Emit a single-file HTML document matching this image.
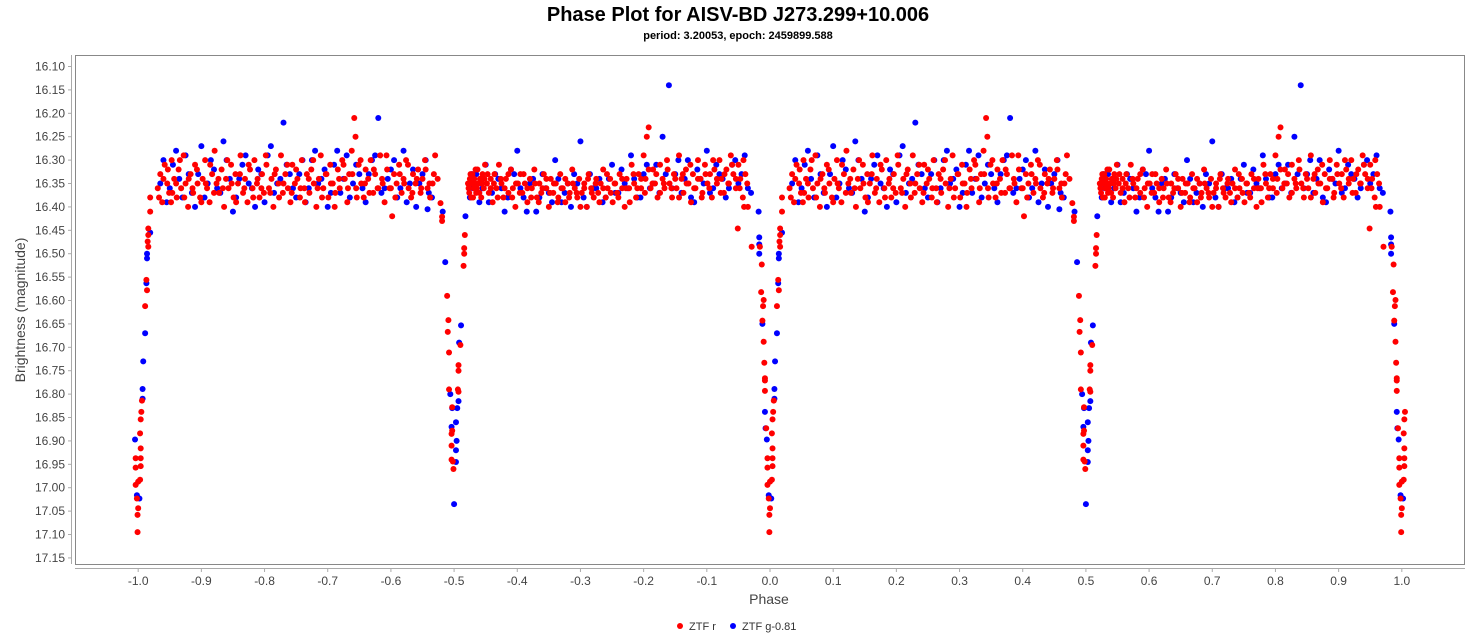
<!DOCTYPE html>
<html><head><meta charset="utf-8"><style>
body{margin:0;background:#fff;font-family:"Liberation Sans",sans-serif}
svg text{font-family:"Liberation Sans",sans-serif}
</style></head><body>
<svg id="chart" width="1477" height="637" xmlns="http://www.w3.org/2000/svg">
<text x="738" y="21" text-anchor="middle" font-size="20" font-weight="bold" fill="#000">Phase Plot for AISV-BD J273.299+10.006</text>
<text x="738" y="39" text-anchor="middle" font-size="11" font-weight="bold" fill="#000">period: 3.20053, epoch: 2459899.588</text>
<rect x="75.5" y="55.5" width="1389" height="509" fill="#fff" stroke="#888"/>
<g id="axes"></g>
<g id="marks"></g>
<text x="769" y="604" text-anchor="middle" font-size="14" fill="#444">Phase</text>
<text transform="translate(25,310) rotate(-90)" text-anchor="middle" font-size="14" fill="#444">Brightness (magnitude)</text>
<g>
<g><circle cx="680" cy="626" r="3" fill="#f00"/><text x="689" y="630" font-size="11" fill="#333">ZTF r</text></g>
<g><circle cx="733" cy="626" r="3" fill="#00f"/><text x="742" y="630" font-size="11" fill="#333">ZTF g-0.81</text></g>
</g>
</svg>
<script>
const xTicks=[-1.0,-0.9,-0.8,-0.7,-0.6,-0.5,-0.4,-0.3,-0.2,-0.1,0.0,0.1,0.2,0.3,0.4,0.5,0.6,0.7,0.8,0.9,1.0];
const yTicks=[16.10,16.15,16.20,16.25,16.30,16.35,16.40,16.45,16.50,16.55,16.60,16.65,16.70,16.75,16.80,16.85,16.90,16.95,17.00,17.05,17.10,17.15];
const redEclipse=[
[-0.051,16.446],[-0.041,16.40],[-0.029,16.485],[-0.016,16.485],[-0.013,16.523],[-0.014,16.582],[-0.010,16.599],[-0.011,16.612],[-0.012,16.643],[-0.010,16.688],[-0.009,16.733],[-0.008,16.766],[-0.008,16.771],[-0.008,16.793],[-0.006,16.873],[-0.004,16.937],[-0.004,16.957],[-0.004,16.994],[-0.002,17.023],[0.0,16.987],[0.0,17.044],[-0.001,17.058],[-0.001,17.095],
[0.003,16.884],[0.004,16.916],[0.004,16.937],[0.004,16.954],[0.003,16.983],[0.004,16.854],[0.005,16.838],[0.006,16.814],[0.011,16.612],[0.014,16.578],[0.013,16.556],[0.016,16.485],[0.015,16.474],[0.016,16.46],[0.016,16.446],[0.019,16.41],[0.019,16.38],[0.052,16.39],
[0.4785,16.392],[0.481,16.421],[0.481,16.43],[0.489,16.59],[0.491,16.642],[0.490,16.667],[0.492,16.711],[0.492,16.79],[0.497,16.828],[0.497,16.878],[0.496,16.885],[0.496,16.91],[0.496,16.94],[0.498,16.944],[0.499,16.96],[0.506,16.79],[0.507,16.795],[0.507,16.738],[0.507,16.75],[0.510,16.695],[0.515,16.526],[0.516,16.50],[0.516,16.488],[0.517,16.46]
];
const redData=[
[0.031,16.36],[0.035,16.33],[0.038,16.39],[0.042,16.31],[0.046,16.35],[0.049,16.37],[0.053,16.30],[0.057,16.34],[0.061,16.38],[0.064,16.32],[0.068,16.36],[0.072,16.29],[0.075,16.35],[0.079,16.40],[0.083,16.33],[0.087,16.37],[0.090,16.31],[0.094,16.35],[0.098,16.38],[0.102,16.34],[0.106,16.30],[0.109,16.36],[0.113,16.39],[0.117,16.33],[0.121,16.28],[0.124,16.35],[0.128,16.37],[0.132,16.32],[0.136,16.40],[0.139,16.34],[0.143,16.36],[0.147,16.31],[0.151,16.38],[0.154,16.33],[0.158,16.35],[0.162,16.29],[0.166,16.37],[0.169,16.34],[0.173,16.39],[0.177,16.32],[0.181,16.36],[0.184,16.30],[0.188,16.35],[0.192,16.38],[0.196,16.33],[0.199,16.37],[0.203,16.31],[0.207,16.36],[0.211,16.34],[0.214,16.40],[0.218,16.32],[0.222,16.35],[0.226,16.29],[0.229,16.37],[0.233,16.33],[0.237,16.36],[0.241,16.39],[0.244,16.31],[0.248,16.35],[0.252,16.34],[0.256,16.38],[0.259,16.30],[0.263,16.36],[0.267,16.33],[0.271,16.37],[0.274,16.32],[0.278,16.35],[0.282,16.40],[0.286,16.34],[0.289,16.29],[0.293,16.36],[0.297,16.33],[0.301,16.38],[0.304,16.31],[0.308,16.35],[0.312,16.37],[0.316,16.32],[0.319,16.36],[0.323,16.30],[0.327,16.34],[0.331,16.39],[0.334,16.33],[0.338,16.28],[0.342,16.21],[0.344,16.25],[0.345,16.36],[0.349,16.31],[0.353,16.35],[0.357,16.38],[0.360,16.32],[0.364,16.34],[0.368,16.30],[0.372,16.37],[0.375,16.33],[0.379,16.36],[0.383,16.29],[0.387,16.35],[0.390,16.39],[0.394,16.32],[0.398,16.36],[0.402,16.42],[0.405,16.33],[0.409,16.35],[0.413,16.31],[0.417,16.37],[0.420,16.34],[0.424,16.30],[0.428,16.36],[0.432,16.38],[0.435,16.33],[0.439,16.35],[0.443,16.32],[0.447,16.37],[0.450,16.34],[0.454,16.30],[0.458,16.36],[0.462,16.38],[0.466,16.35],[0.470,16.29],[0.474,16.34],
[0.523,16.36],[0.525,16.34],[0.527,16.38],[0.529,16.33],[0.531,16.36],[0.533,16.35],[0.535,16.37],[0.537,16.32],[0.539,16.35],[0.541,16.34],[0.543,16.38],[0.545,16.33],[0.547,16.36],[0.549,16.31],[0.552,16.35],[0.555,16.37],[0.558,16.34],[0.561,16.39],[0.564,16.33],[0.567,16.36],[0.571,16.31],[0.575,16.35],[0.578,16.38],[0.582,16.34],[0.586,16.37],[0.590,16.32],[0.593,16.36],[0.597,16.40],[0.601,16.35],[0.605,16.33],[0.608,16.37],[0.612,16.35],[0.616,16.39],[0.620,16.34],[0.623,16.36],[0.627,16.32],[0.631,16.38],[0.635,16.35],[0.638,16.37],[0.642,16.33],[0.646,16.36],[0.650,16.40],[0.653,16.34],[0.657,16.37],[0.661,16.35],[0.665,16.38],[0.668,16.33],[0.672,16.36],[0.676,16.39],[0.680,16.35],[0.683,16.37],[0.687,16.32],[0.691,16.36],[0.695,16.38],[0.698,16.34],[0.702,16.37],[0.706,16.35],[0.710,16.40],[0.713,16.33],[0.717,16.36],[0.721,16.38],[0.725,16.34],[0.728,16.37],[0.732,16.35],[0.736,16.32],[0.740,16.38],[0.743,16.36],[0.747,16.34],[0.751,16.39],[0.755,16.35],[0.758,16.37],[0.762,16.33],[0.766,16.36],[0.770,16.40],[0.773,16.34],[0.777,16.36],[0.781,16.31],[0.785,16.35],[0.788,16.38],[0.792,16.33],[0.796,16.36],[0.800,16.29],[0.803,16.34],[0.805,16.25],[0.808,16.23],[0.811,16.36],[0.815,16.32],[0.818,16.35],[0.822,16.38],[0.826,16.31],[0.830,16.34],[0.833,16.36],[0.837,16.30],[0.841,16.35],[0.845,16.38],[0.848,16.33],[0.852,16.36],[0.856,16.29],[0.860,16.34],[0.863,16.37],[0.867,16.32],[0.871,16.35],[0.875,16.39],[0.878,16.33],[0.882,16.36],[0.886,16.30],[0.890,16.34],[0.893,16.37],[0.897,16.31],[0.901,16.35],[0.905,16.33],[0.908,16.38],[0.912,16.32],[0.916,16.35],[0.920,16.30],[0.923,16.34],[0.927,16.37],[0.931,16.32],[0.935,16.35],[0.938,16.29],[0.942,16.33],[0.946,16.36],[0.950,16.31],[0.953,16.34],[0.957,16.38],[0.961,16.33],[0.965,16.40]
];
const redExtra=[
[0.033,16.38],[0.040,16.34],[0.047,16.32],[0.054,16.37],[0.060,16.35],[0.066,16.30],[0.073,16.38],[0.080,16.34],[0.086,16.36],[0.093,16.32],[0.100,16.39],[0.107,16.35],[0.114,16.31],[0.120,16.37],[0.127,16.34],[0.134,16.36],[0.141,16.30],[0.148,16.35],[0.155,16.39],[0.161,16.33],[0.168,16.36],[0.175,16.31],[0.182,16.38],[0.189,16.34],[0.195,16.36],[0.202,16.29],[0.209,16.37],[0.216,16.33],[0.223,16.38],[0.230,16.35],[0.236,16.31],[0.243,16.37],[0.250,16.32],[0.257,16.36],[0.264,16.39],[0.270,16.34],[0.277,16.30],[0.284,16.36],[0.291,16.38],[0.298,16.33],[0.305,16.35],[0.311,16.40],[0.318,16.34],[0.325,16.31],[0.332,16.36],[0.339,16.33],[0.346,16.38],[0.352,16.30],[0.359,16.35],[0.366,16.37],[0.373,16.32],[0.380,16.36],[0.386,16.34],[0.393,16.29],[0.400,16.36],[0.407,16.38],[0.414,16.33],[0.421,16.35],[0.427,16.31],[0.434,16.37],[0.441,16.34],[0.448,16.36],[0.455,16.32],[0.461,16.35],[0.468,16.33],
[0.522,16.35],[0.524,16.37],[0.526,16.33],[0.528,16.35],[0.530,16.38],[0.532,16.34],[0.534,16.32],[0.536,16.36],[0.538,16.35],[0.540,16.37],[0.544,16.35],[0.548,16.34],[0.553,16.33],[0.558,16.36],[0.563,16.35],[0.569,16.38],[0.574,16.34],[0.580,16.36],[0.586,16.33],[0.592,16.38],[0.598,16.35],[0.604,16.37],[0.610,16.33],[0.616,16.36],[0.622,16.38],[0.628,16.35],[0.634,16.39],[0.640,16.36],[0.646,16.34],[0.652,16.37],[0.658,16.35],[0.664,16.39],[0.670,16.36],[0.676,16.34],[0.682,16.38],[0.688,16.35],[0.694,16.37],[0.700,16.40],[0.706,16.36],[0.712,16.34],[0.718,16.37],[0.724,16.35],[0.730,16.39],[0.736,16.36],[0.742,16.33],[0.748,16.37],[0.754,16.35],[0.760,16.38],[0.766,16.34],[0.772,16.36],[0.778,16.39],[0.784,16.33],[0.790,16.36],[0.796,16.34],[0.802,16.37],[0.808,16.32],[0.814,16.35],[0.820,16.33],[0.826,16.37],[0.832,16.35],[0.838,16.32],[0.844,16.36],[0.850,16.34],[0.856,16.38],[0.862,16.33],[0.868,16.35],[0.874,16.31],[0.880,16.36],[0.886,16.34],[0.892,16.38],[0.898,16.33],[0.904,16.36],[0.910,16.30],[0.916,16.34],[0.922,16.37],[0.928,16.33],[0.934,16.35],[0.940,16.31],[0.946,16.34],[0.952,16.36],[0.958,16.30],[0.964,16.35]
];
const blueEclipse=[
[-0.018,16.41],[-0.017,16.465],[-0.017,16.48],[-0.017,16.50],[-0.012,16.65],[-0.008,16.838],[-0.007,16.873],[-0.005,16.897],[-0.002,17.016],[0.014,16.50],[0.014,16.51],[0.013,16.563],[0.011,16.67],[0.008,16.73],[0.007,16.789],[0.007,16.81],[0.002,17.023],[0.019,16.455],
[0.458,16.405],[0.482,16.41],[0.518,16.42],[0.486,16.518],[0.511,16.653],[0.508,16.69],[0.494,16.80],[0.507,16.815],[0.505,16.83],[0.497,16.83],[0.503,16.86],[0.496,16.87],[0.504,16.90],[0.503,16.92],[0.503,16.945],[0.500,17.035]
];
const blueData=[
[0.04,16.30],[0.05,16.36],[0.06,16.28],[0.07,16.38],[0.08,16.33],[0.09,16.40],[0.10,16.27],[0.11,16.35],[0.12,16.32],[0.13,16.37],[0.14,16.30],[0.15,16.41],[0.16,16.34],[0.17,16.29],[0.18,16.36],[0.19,16.32],[0.20,16.39],[0.21,16.27],[0.22,16.35],[0.23,16.22],[0.24,16.33],[0.25,16.38],[0.26,16.30],[0.27,16.36],[0.28,16.28],[0.29,16.34],[0.30,16.40],[0.31,16.31],[0.32,16.37],[0.33,16.29],[0.34,16.35],[0.35,16.33],[0.36,16.39],[0.37,16.30],[0.38,16.21],[0.39,16.36],[0.40,16.32],[0.41,16.38],[0.42,16.28],[0.43,16.35],[0.44,16.40],[0.45,16.33],[0.46,16.37],
[0.53,16.36],[0.535,16.33],[0.54,16.39],[0.55,16.31],[0.56,16.37],[0.57,16.34],[0.58,16.41],[0.59,16.32],[0.60,16.28],[0.61,16.38],[0.62,16.35],[0.63,16.41],[0.64,16.33],[0.65,16.37],[0.66,16.30],[0.67,16.39],[0.68,16.35],[0.69,16.33],[0.70,16.26],[0.71,16.40],[0.72,16.36],[0.73,16.34],[0.74,16.38],[0.75,16.31],[0.76,16.37],[0.77,16.35],[0.78,16.29],[0.79,16.38],[0.80,16.33],[0.81,16.36],[0.82,16.31],[0.83,16.25],[0.84,16.14],[0.85,16.33],[0.86,16.37],[0.87,16.30],[0.88,16.39],[0.89,16.34],[0.90,16.28],[0.91,16.36],[0.92,16.33],[0.93,16.38],[0.94,16.31],[0.95,16.35],[0.96,16.29],[0.97,16.37]
];
const blueExtra=[
[0.035,16.35],[0.045,16.39],[0.055,16.31],[0.065,16.34],[0.075,16.29],[0.085,16.37],[0.095,16.33],[0.105,16.38],[0.115,16.30],[0.125,16.36],[0.135,16.26],[0.145,16.34],[0.155,16.38],[0.165,16.31],[0.175,16.35],[0.185,16.40],[0.195,16.33],[0.205,16.29],[0.215,16.37],[0.225,16.34],[0.235,16.31],[0.245,16.36],[0.255,16.33],[0.265,16.39],[0.275,16.30],[0.285,16.35],[0.295,16.32],[0.305,16.37],[0.315,16.28],[0.325,16.34],[0.335,16.38],[0.345,16.31],[0.355,16.36],[0.365,16.33],[0.375,16.29],[0.385,16.37],[0.395,16.34],[0.405,16.30],[0.415,16.36],[0.425,16.39],[0.435,16.32],[0.445,16.35],[0.455,16.30],[0.465,16.38],
[0.525,16.38],[0.528,16.33],[0.545,16.36],[0.555,16.39],[0.565,16.33],[0.575,16.36],[0.585,16.38],[0.595,16.33],[0.605,16.36],[0.615,16.41],[0.625,16.34],[0.635,16.38],[0.645,16.36],[0.655,16.39],[0.665,16.34],[0.675,16.37],[0.685,16.40],[0.695,16.35],[0.705,16.38],[0.715,16.33],[0.725,16.36],[0.735,16.39],[0.745,16.34],[0.755,16.37],[0.765,16.32],[0.775,16.36],[0.785,16.34],[0.795,16.38],[0.805,16.31],[0.815,16.35],[0.825,16.37],[0.835,16.33],[0.845,16.36],[0.855,16.30],[0.865,16.34],[0.875,16.38],[0.885,16.32],[0.895,16.35],[0.905,16.37],[0.915,16.31],[0.925,16.34],[0.935,16.36],[0.945,16.30],[0.955,16.33],[0.965,16.36]
];
const SVGNS='http://www.w3.org/2000/svg';
const xMin=-1.1,xMax=1.1,plotLeft=75,plotRight=1465;
const yMin=16.0754,yMax=17.163,plotTop=55,plotBottom=564;
function xs(p){return plotLeft+(p-xMin)/(xMax-xMin)*(plotRight-plotLeft);}
function ys(m){return plotTop+(m-yMin)/(yMax-yMin)*(plotBottom-plotTop);}
const axesG=document.getElementById('axes'),marksG=document.getElementById('marks');
function mk(tag,attrs,parent){const e=document.createElementNS(SVGNS,tag);for(const k in attrs)e.setAttribute(k,attrs[k]);parent.appendChild(e);return e;}
const yl=mk('line',{x1:71.5,x2:71.5,y1:55,y2:564,stroke:'#aaa'},axesG);


const xl=mk('line',{x1:75,x2:1465,y1:568.5,y2:568.5,stroke:'#aaa'},axesG);


yTicks.forEach(v=>{const y=ys(v);
 mk('line',{x1:68,x2:71,y1:y,y2:y,stroke:'#aaa'},axesG);
 const t=mk('text',{x:65,y:y+4,'text-anchor':'end','font-size':12,fill:'#444'},axesG);
 
 
 t.textContent=v.toFixed(2);});
xTicks.forEach(v=>{const x=xs(v);
 mk('line',{x1:x,x2:x,y1:568,y2:572,stroke:'#aaa'},axesG);
 const t=mk('text',{x:x,y:585,'text-anchor':'middle','font-size':12,fill:'#444'},axesG);
 
 
 t.textContent=v.toFixed(1);});
function plot(data,color,name){
 data.forEach(d=>{
  [d[0]-1,d[0],d[0]+1].forEach(p=>{
   if(p<-1.005||p>1.005)return;
   const c=mk('circle',{cx:xs(p),cy:ys(d[1]),r:3,fill:color},marksG);
   
   
  });
 });
}
plot(blueData,'#0000ff','ztf-g-point');
plot(blueExtra,'#0000ff','ztf-g-point');
plot(blueEclipse,'#0000ff','ztf-g-point');
plot(redData,'#ff0000','ztf-r-point');
plot(redExtra,'#ff0000','ztf-r-point');
plot(redEclipse,'#ff0000','ztf-r-point');
</script>
</body></html>
